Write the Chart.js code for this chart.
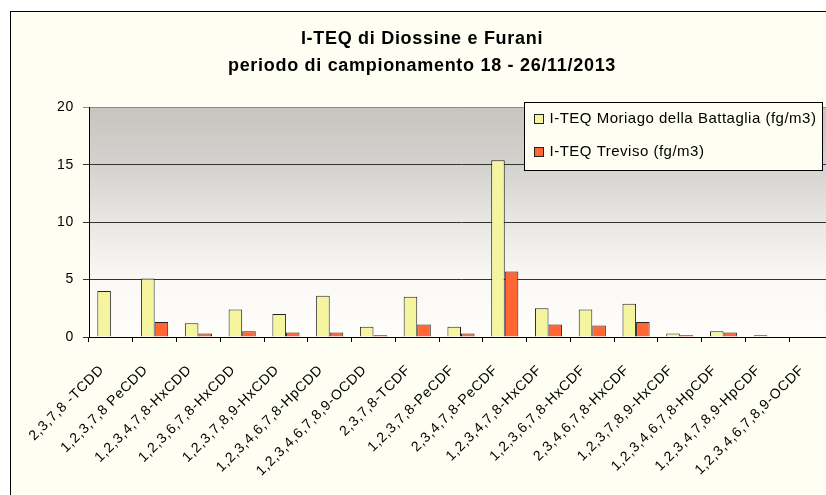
<!DOCTYPE html>
<html>
<head>
<meta charset="utf-8">
<script src="https://cdn.jsdelivr.net/npm/chart.js@4.4.1/dist/chart.umd.min.js"></script>
<style>
  html, body { margin: 0; padding: 0; background: #fff; overflow: hidden; width: 826px; height: 495px; }
  #box { position: absolute; left: 10px; top: 11px; width: 840px; height: 490px;
         border-left: 1px solid #000; border-top: 1px solid #000; background: #fefef3; }
  #chart { display: block; }
</style>
</head>
<body>
<div id="box"><canvas id="chart" width="827" height="483"></canvas></div>
<script>
// dati
const categories = [
  '2,3,7,8 -TCDD', '1,2,3,7,8 PeCDD', '1,2,3,4,7,8-HxCDD', '1,2,3,6,7,8-HxCDD',
  '1,2,3,7,8,9-HxCDD', '1,2,3,4,6,7,8-HpCDD', '1,2,3,4,6,7,8,9-OCDD', '2,3,7,8-TCDF',
  '1,2,3,7,8-PeCDF', '2,3,4,7,8-PeCDF', '1,2,3,4,7,8-HxCDF', '1,2,3,6,7,8-HxCDF',
  '2,3,4,6,7,8-HxCDF', '1,2,3,7,8,9-HxCDF', '1,2,3,4,6,7,8-HpCDF', '1,2,3,4,7,8,9-HpCDF',
  '1,2,3,4,6,7,8,9-OCDF'
];
const moriago = [4.0, 5.1, 1.2, 2.4, 2.0, 3.6, 0.9, 3.5, 0.9, 15.4, 2.5, 2.4, 2.9, 0.3, 0.5, 0.15, 0];
const treviso = [0, 1.3, 0.3, 0.5, 0.4, 0.4, 0.15, 1.1, 0.3, 5.7, 1.1, 1.0, 1.3, 0.15, 0.4, 0, 0];
const yTicks = [0, 5, 10, 15, 20];
const titleLines = ['I-TEQ di Diossine e Furani', 'periodo di campionamento 18 - 26/11/2013'];
const seriesNames = ['I-TEQ Moriago della Battaglia (fg/m3)', 'I-TEQ Treviso (fg/m3)'];

const family = '"Liberation Sans", Arial, sans-serif';

// spaziatura lettere come in Excel
const spacing = {
  id: 'spacing',
  beforeUpdate(chart) { chart.ctx.letterSpacing = '0.7px'; },
  beforeDraw(chart) { chart.ctx.letterSpacing = '0.7px'; }
};

// sfondo sfumato dell'area del grafico
const plotBg = {
  id: 'plotBg',
  beforeDraw(chart) {
    const { ctx, chartArea: a } = chart;
    const g = ctx.createLinearGradient(0, a.top, 0, a.bottom);
    g.addColorStop(0, '#c7c4bf');
    g.addColorStop(0.25, '#d4d2ce');
    g.addColorStop(0.5, '#e8e7e4');
    g.addColorStop(0.75, '#fbf9f6');
    g.addColorStop(1, '#fffdfa');
    ctx.save();
    ctx.fillStyle = g;
    ctx.fillRect(a.left, a.top, a.right - a.left, a.bottom - a.top);
    ctx.restore();
  }
};

// legenda con cornice
const legendBox = {
  id: 'legendBox',
  afterDraw(chart) {
    const ctx = chart.ctx;
    const x = 513.5, y = 90.5, w = 298, h = 68;
    ctx.save();
    ctx.fillStyle = '#fefef3';
    ctx.fillRect(x, y, w, h);
    ctx.strokeStyle = '#000';
    ctx.lineWidth = 1;
    ctx.strokeRect(x, y, w, h);
    ctx.font = '15px ' + family;
    ctx.letterSpacing = '0.5px';
    ctx.textBaseline = 'middle';
    chart.data.datasets.forEach((ds, i) => {
      const cy = 107 + i * 33;
      ctx.fillStyle = ds.backgroundColor;
      ctx.fillRect(x + 10, cy - 4.5, 9, 9);
      ctx.strokeStyle = '#222';
      ctx.strokeRect(x + 10, cy - 4.5, 9, 9);
      ctx.fillStyle = '#000';
      ctx.fillText(ds.label, x + 25, cy);
    });
    ctx.restore();
  }
};

const ctx = document.getElementById('chart').getContext('2d');

const chart = new Chart(ctx, {
  type: 'bar',
  data: {
    labels: categories,
    datasets: [
      { label: seriesNames[0], data: moriago, backgroundColor: '#f5f5a0', borderColor: '#222', borderWidth: 1,
        categoryPercentage: 0.62, barPercentage: 1 },
      { label: seriesNames[1], data: treviso, backgroundColor: '#ff6633', borderColor: '#222', borderWidth: 1,
        categoryPercentage: 0.62, barPercentage: 1 }
    ]
  },
  options: {
    responsive: false,
    animation: false,
    devicePixelRatio: 1,
    layout: { padding: { left: 0, right: 5, top: 0, bottom: 0 } },
    plugins: {
      legend: { display: false },
      tooltip: { enabled: false },
      title: {
        display: true,
        text: titleLines,
        color: '#000',
        font: { family: family, size: 18, weight: 'bold', lineHeight: 1.5 },
        padding: { top: 13.5, bottom: 28 }
      }
    },
    scales: {
      x: {
        grid: { offset: true, drawOnChartArea: false, drawTicks: true, tickLength: 5, color: '#000' },
        border: { color: '#000', width: 1 },
        ticks: {
          autoSkip: false, minRotation: 45, maxRotation: 45, color: '#000',
          font: { family: family, size: 14 }, padding: 20, labelOffset: -9
        },
        afterFit(s) {
          s.height = 158;
          s.paddingLeft = 0;
          s.paddingRight = 0;
        }
      },
      y: {
        min: 0,
        max: 20,
        afterBuildTicks(s) { s.ticks = yTicks.map(v => ({ value: v })); },
        grid: {
          color: c => (c.tick && c.tick.value === 20 ? '#8c8c8c' : '#333'),
          tickLength: 6
        },
        border: { color: '#000' },
        ticks: { color: '#000', font: { family: family, size: 14 }, padding: 9 },
        afterFit(s) { s.width = 78; }
      }
    }
  },
  plugins: [spacing, plotBg, legendBox]
});
</script>
</body>
</html>
